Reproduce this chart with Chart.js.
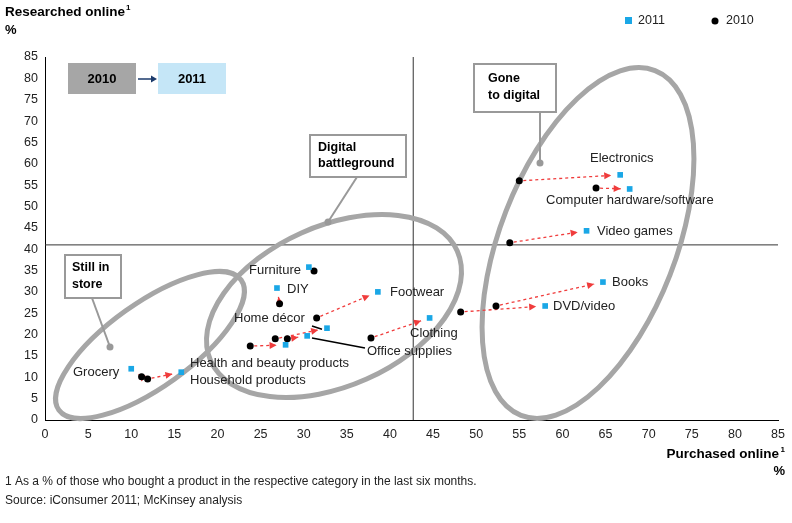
<!DOCTYPE html>
<html><head><meta charset="utf-8">
<script src="https://cdn.jsdelivr.net/npm/chart.js@4"></script>
<style>body{margin:0;background:#fff}#wrap{width:792px;height:523px;position:relative}</style>
</head><body><div id="wrap"><canvas id="c" width="792" height="523"></canvas></div>
<script>
var categories = ["Electronics", "Computer hardware/software", "Video games", "Books", "DVD/video", "Clothing", "Footwear", "Furniture", "DIY", "Home décor", "Office supplies", "Health and beauty products", "Household products", "Grocery"];
var x2010 = [55.0, 63.9, 53.9, 52.3, 48.2, 37.8, 31.5, 31.2, 27.2, 26.7, 28.1, 23.8, 11.9, 11.2];
var y2010 = [56.0, 54.3, 41.5, 26.7, 25.3, 19.2, 23.9, 34.9, 27.2, 19.0, 19.0, 17.3, 9.6, 10.1];
var x2011 = [66.7, 67.8, 62.8, 64.7, 58.0, 44.6, 38.6, 30.6, 26.9, 32.7, 30.4, 27.9, 15.8, 10.0];
var y2011 = [57.4, 54.1, 44.3, 32.3, 26.7, 23.9, 30.0, 35.8, 30.9, 21.5, 19.7, 17.6, 11.2, 12.0];
var labelPos = [[590,158],[546,200],[597,231],[612,282],[553,306],[410,333],[390,292],[249,270],[287,289],[234,318],[367,351],[190,363],[190,380],[73,372]];
var F = "'Liberation Sans', Arial, sans-serif";

function pts(xs, ys){ return xs.map(function(v,i){return {x:v,y:ys[i]};}); }

var overlay = {
  id:'overlay',
  beforeDatasetsDraw: function(ch){
    var c = ch.ctx, xs = ch.scales.x, ys = ch.scales.y;
    c.save();
    // quadrant lines
    c.strokeStyle='#333'; c.lineWidth=1;
    c.beginPath(); c.moveTo(xs.getPixelForValue(42.7), ys.top); c.lineTo(xs.getPixelForValue(42.7), ys.bottom);
    c.moveTo(xs.left, ys.getPixelForValue(41)); c.lineTo(xs.right, ys.getPixelForValue(41)); c.stroke();
    // ellipses
    c.strokeStyle='#a6a6a6'; c.lineWidth=5;
    [[150,345,112,42,-0.62],[334,306,135,80,-0.42],[588,243,185,88,-1.2]].forEach(function(e){
      c.beginPath(); c.ellipse(e[0],e[1],e[2],e[3],e[4],0,Math.PI*2); c.stroke();
    });
    // callouts
    c.strokeStyle='#999'; c.lineWidth=2;
    [[92,298,110,347],[357,177,328,222],[540,112,540,163]].forEach(function(l){
      c.beginPath(); c.moveTo(l[0],l[1]); c.lineTo(l[2],l[3]); c.stroke();
      c.fillStyle='#999'; c.beginPath(); c.arc(l[2],l[3],3.5,0,Math.PI*2); c.fill();
    });
    c.fillStyle='#fff'; c.strokeStyle='#999'; c.lineWidth=2;
    [[65,255,56,43],[310,135,96,42],[474,64,82,48]].forEach(function(b){ c.fillRect(b[0],b[1],b[2],b[3]); c.strokeRect(b[0],b[1],b[2],b[3]); });
    c.fillStyle='#000'; c.font='bold 12.5px '+F; c.textAlign='left'; c.textBaseline='middle';
    c.fillText('Still in',72,268); c.fillText('store',72,285);
    c.fillText('Digital',318,148); c.fillText('battleground',318,164);
    c.fillText('Gone',488,79); c.fillText('to digital',488,96);
    // leader lines for home decor / office supplies
    c.strokeStyle='#000'; c.lineWidth=1.5;
    c.beginPath(); c.moveTo(312,326); c.lineTo(xs.getPixelForValue(x2011[9])-5, ys.getPixelForValue(y2011[9])+1);
    c.moveTo(312,338); c.lineTo(365,348); c.stroke();
    // arrows
    c.strokeStyle='#f03c3c'; c.fillStyle='#f03c3c'; c.lineWidth=1.3;
    for (var i=0;i<categories.length;i++){
      var x0=xs.getPixelForValue(x2010[i]), y0=ys.getPixelForValue(y2010[i]);
      var x1=xs.getPixelForValue(x2011[i]), y1=ys.getPixelForValue(y2011[i]);
      var dx=x1-x0, dy=y1-y0, d=Math.hypot(dx,dy); if(d<8) continue;
      var ux=dx/d, uy=dy/d, ex=x1-ux*9, ey=y1-uy*9;
      c.setLineDash([3,3]); c.beginPath(); c.moveTo(x0+ux*4,y0+uy*4); c.lineTo(ex,ey); c.stroke();
      c.setLineDash([]); c.beginPath(); c.moveTo(ex,ey); c.lineTo(ex-ux*7-uy*3.5, ey-uy*7+ux*3.5); c.lineTo(ex-ux*7+uy*3.5, ey-uy*7-ux*3.5); c.closePath(); c.fill();
    }
    c.restore();
  },
  afterDraw: function(ch){
    var c = ch.ctx; c.save();
    c.fillStyle='#222'; c.font='13px '+F; c.textBaseline='middle'; c.textAlign='left';
    categories.forEach(function(n,i){ c.fillText(n,labelPos[i][0],labelPos[i][1]); });
    c.fillStyle='#000'; c.font='bold 13.5px '+F;
    c.fillText('Researched online',5,12); var w=c.measureText('Researched online').width;
    c.font='bold 8px '+F; c.fillText('1',5+w+1,8);
    c.font='bold 13px '+F; c.fillText('%',5,30);
    c.textAlign='right'; c.font='bold 13.5px '+F; c.fillText('Purchased online',779,454);
    c.font='bold 8px '+F; c.fillText('1',785,450);
    c.font='bold 13px '+F; c.fillText('%',785,471);
    c.textAlign='left'; c.font='12px '+F; c.fillStyle='#222';
    c.fillText('1 As a % of those who bought a product in the respective category in the last six months.',5,482);
    c.fillText('Source: iConsumer 2011; McKinsey analysis',5,501);
    // legend
    c.fillStyle='#1aa7e6'; c.fillRect(625,17,7,7); c.fillStyle='#222'; c.font='12.5px '+F; c.fillText('2011',638,21);
    c.fillStyle='#000'; c.beginPath(); c.arc(715,21,3.5,0,Math.PI*2); c.fill(); c.fillStyle='#222'; c.fillText('2010',726,21);
    // 2010 -> 2011
    c.fillStyle='#a6a6a6'; c.fillRect(68,63,68,31); c.fillStyle='#c5e6f7'; c.fillRect(158,63,68,31);
    c.fillStyle='#000'; c.font='bold 13px '+F; c.textAlign='center'; c.fillText('2010',102,79); c.fillText('2011',192,79);
    c.strokeStyle='#1b3a6b'; c.lineWidth=1.5; c.beginPath(); c.moveTo(138,79); c.lineTo(154,79); c.stroke();
    c.fillStyle='#1b3a6b'; c.beginPath(); c.moveTo(157,79); c.lineTo(151,75.5); c.lineTo(151,82.5); c.fill();
    c.restore();
  }
};

new Chart(document.getElementById('c'), {
  type: 'scatter',
  data: { datasets: [
    { label:'2011', data: pts(x2011,y2011), pointStyle:'rect', pointRadius:4, backgroundColor:'#1aa7e6', borderWidth:0 },
    { label:'2010', data: pts(x2010,y2010), pointStyle:'circle', pointRadius:3.5, backgroundColor:'#000', borderWidth:0 }
  ]},
  options: {
    responsive:false, animation:false,
    layout:{ padding:{ top:57, right:14, bottom:78, left:0 } },
    plugins:{ legend:{display:false}, tooltip:{enabled:false} },
    scales:{
      x:{ min:0, max:85, ticks:{ stepSize:5, color:'#222', font:{family:F,size:12.5} },
          grid:{ display:false, drawTicks:true, tickLength:4, tickColor:'#000' }, border:{color:'#000'} },
      y:{ min:0, max:85, afterFit:function(s){ s.width=45; }, ticks:{ stepSize:5, color:'#222', font:{family:F,size:12.5} },
          grid:{ display:false, tickLength:4, tickColor:'#000' }, border:{color:'#000'} }
    }
  },
  plugins:[overlay]
});
</script></body></html>
